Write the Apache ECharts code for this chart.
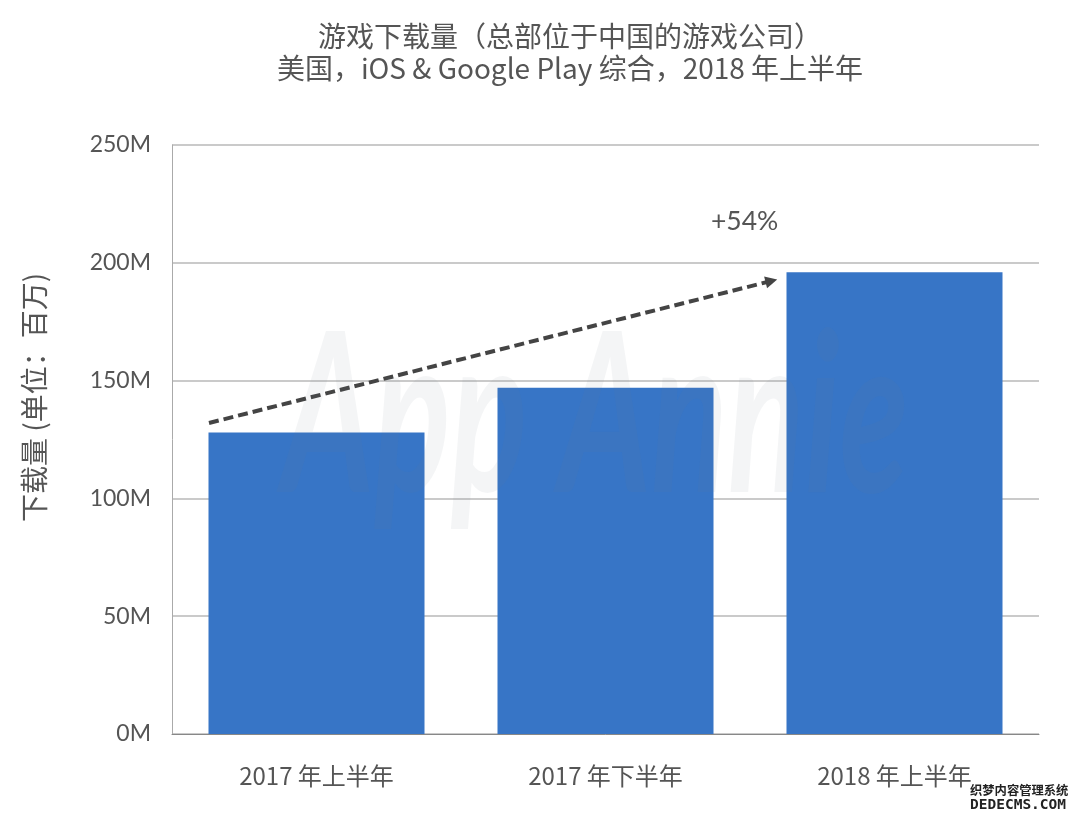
<!DOCTYPE html>
<html><head><meta charset="utf-8">
<style>html,body{margin:0;padding:0;background:#fff}#c{width:1080px;height:820px}</style>
<script src="https://cdn.jsdelivr.net/npm/echarts@6/dist/echarts.min.js"></script></head>
<body><div id="c"></div>
<script>
const categories = ['2017 年上半年','2017 年下半年','2018 年上半年'];
const downloads = [128, 147, 196];
const trendXPositions = [0.128, 2.074];
const trendValues = [132, 192.3];
const tickLabelSuffix = 'M';
const FF = '"Noto Sans CJK SC","Lato",sans-serif';
const FL = 'Lato,"Noto Sans CJK SC",sans-serif';
const titleText = '游戏下载量\uFF08总部位于中国的游戏公司\uFF09\n美国\uFF0CiOS & Google Play 综合\uFF0C2018 年上半年';
const yName = '下载量 (单位\uFF1A百万)';
const chart = echarts.init(document.getElementById('c'), null, {renderer:'canvas'});
chart.setOption({
  animation:false,
  backgroundColor:'#fff',
  title:{text:titleText,left:565,top:15,textAlign:'center',
    textStyle:{fontFamily:FF,fontSize:28,fontWeight:400,color:'#555',lineHeight:32}},
  graphic:[
    {type:'text',x:282,y:420,scaleX:0.64,z:50,silent:true,style:{text:'App Annie',verticalAlign:'middle',fontFamily:'Lato',fontStyle:'italic',fontWeight:700,fontSize:222,fill:'rgba(110,125,140,0.08)'}},
    {type:'text',left:711,top:208,style:{text:'+54%',fontFamily:FL,fontSize:26.5,fill:'#555'}},
    {type:'text',x:970,y:784,z:60,style:{text:'织梦内容管理系统',fontFamily:FF,fontSize:12.3,fontWeight:700,fill:'#222',stroke:'#fff',lineWidth:2}},
    {type:'text',x:970,y:798,z:60,style:{text:'DEDECMS.COM',fontFamily:'"DejaVu Sans Mono",monospace',fontSize:14.5,fontWeight:700,fill:'#222',stroke:'#fff',lineWidth:2}}
  ],
  grid:{left:172,right:41,top:145,bottom:86},
  xAxis:[{type:'category',data:categories,
    axisLine:{lineStyle:{color:'#888',width:1}},axisTick:{show:false},
    axisLabel:{fontFamily:FF,fontSize:24,color:'#555',margin:30}},
    {type:'value',min:0,max:3,show:false}],
  yAxis:{type:'value',min:0,max:250,interval:50,
    name:yName,nameLocation:'middle',nameGap:124,nameRotate:90,
    nameTextStyle:{fontFamily:FF,fontSize:28,color:'#555',padding:[0,0,0,84]},
    axisLine:{show:true,lineStyle:{color:'#aaa'}},axisTick:{show:false},
    axisLabel:{formatter:v=>v+tickLabelSuffix,fontFamily:FL,fontSize:23,color:'#555',margin:21,padding:[8,0,0,0]},
    splitLine:{lineStyle:{color:'#b8b8b8',width:1.5}}},
  series:[{type:'bar',data:downloads,barWidth:216,itemStyle:{color:'#3775c6'}},
    {type:'line',xAxisIndex:1,data:[[trendXPositions[0],trendValues[0]],[trendXPositions[1],trendValues[1]]],
     showSymbol:false,lineStyle:{opacity:0},silent:true,
     markLine:{silent:true,symbol:['none','triangle'],symbolSize:[12,12],
      lineStyle:{type:[10,5],color:'#444',width:4},label:{show:false},
      data:[[{coord:[trendXPositions[0],trendValues[0]]},{coord:[trendXPositions[1],trendValues[1]]}]]}}]
});
</script></body></html>
